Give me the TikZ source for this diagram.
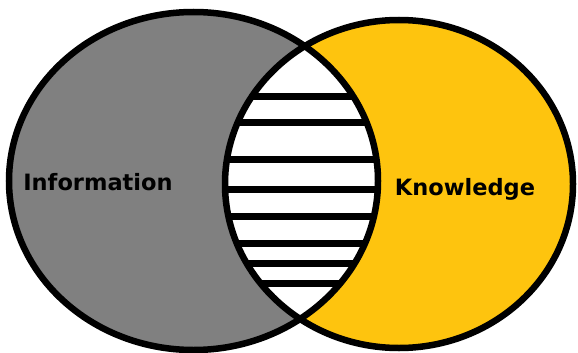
\documentclass[tikz,border=0pt]{standalone}
\usepackage{fontspec}
\setmainfont{DejaVu Sans}
\definecolor{infogray}{RGB}{128,128,128}
\definecolor{knowyellow}{RGB}{254,196,14}
\begin{document}
\begin{tikzpicture}[x=1pt,y=-1pt,
  outline/.style={draw=black,line width=6.5pt},
  stripe/.style={draw=black,line width=7pt},
  vlabel/.style={font=\bfseries\fontsize{22.5}{24}\selectfont, text=black, inner sep=0pt, anchor=base}]
\useasboundingbox (0,0) rectangle (578,353);
\coordinate (lc) at (193.5,181);
\coordinate (rc) at (399,184);
\fill[infogray] (lc) ellipse [x radius=184.5pt, y radius=169pt];
\fill[knowyellow] (rc) ellipse [x radius=174pt, y radius=164pt];
\begin{scope}
  \clip (lc) ellipse [x radius=184.5pt, y radius=169pt];
  \clip (rc) ellipse [x radius=174pt, y radius=164pt];
  \fill[white] (200,0) rectangle (400,353);
  \foreach \y in {96,122,159,189,216,243,263,283}
    \draw[stripe] (200,\y) -- (400,\y);
\end{scope}
\draw[outline] (lc) ellipse [x radius=184.5pt, y radius=169pt];
\draw[outline] (rc) ellipse [x radius=174pt, y radius=164pt];
\node[vlabel] (info) at (98,190) {Information};
\node[vlabel] (know) at (465,195) {Knowledge};
\end{tikzpicture}
\end{document}
